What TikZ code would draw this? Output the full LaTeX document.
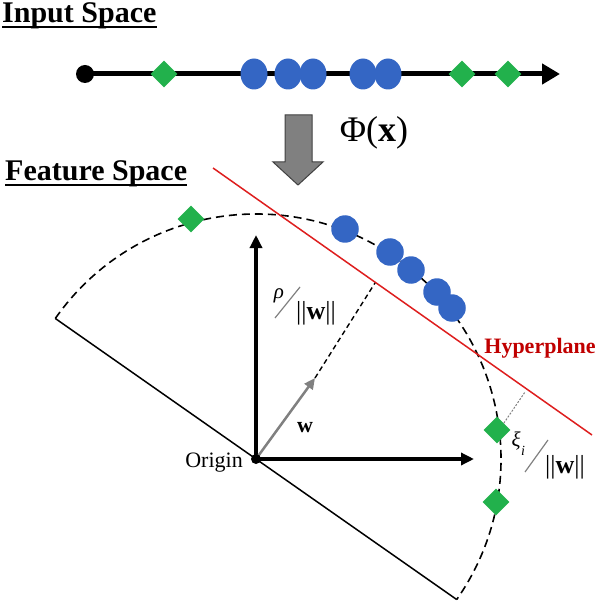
\documentclass[tikz,border=0pt]{standalone}
\usepackage{fontspec}
\setmainfont{Liberation Serif}
\usetikzlibrary{shapes.geometric,arrows.meta,calc}
\definecolor{gdiam}{RGB}{34,177,76}
\definecolor{bdot}{RGB}{52,102,196}
\definecolor{hred}{RGB}{222,30,30}
\definecolor{hlab}{RGB}{192,0,0}
\definecolor{garrow}{RGB}{128,128,128}
\definecolor{gborder}{RGB}{64,64,64}
\begin{document}
\begin{tikzpicture}[x=1pt,y=1pt,
  gdia/.style={diamond,fill=gdiam,minimum width=27pt,minimum height=27pt,inner sep=0pt,aspect=1},
  bdisk/.style={ellipse,fill=bdot,minimum width=27pt,minimum height=31pt,inner sep=0pt},
  bdisk2/.style={circle,fill=bdot,minimum size=27.5pt,inner sep=0pt},
  titletext/.style={font=\fontsize{30}{34}\selectfont\bfseries,inner sep=0pt,anchor=base west},
  lbl/.style={font=\fontsize{22}{26}\selectfont,inner sep=0pt},
  axisline/.style={line width=3.5pt,-{Triangle[length=13pt,width=12pt]}},
  arcline/.style={line width=1.6pt,dash pattern=on 8pt off 5pt},
  fracslash/.style={line width=1.2pt,gray},
]
\path[use as bounding box] (0,0) rectangle (600,-601);

% ---------- Input space ----------
\node[titletext] (inp) at (2,-23) {Input Space};
\draw[line width=1.5pt] ($(inp.base west)+(0,-4)$) -- ($(inp.base east)+(0,-4)$);

\node[circle,fill=black,minimum size=18pt,inner sep=0pt] (s) at (85,-74) {};
\coordinate (e) at (560,-74);
\draw[line width=5pt,-{Triangle[length=18pt,width=20pt]}] (s.center) -- (e);

\node[gdia] (d1) at (164,-74) {};
\node[gdia] (d2) at (462,-74) {};
\node[gdia] (d3) at (508,-74) {};
\node[bdisk] (b1) at (254,-74) {};
\node[bdisk] (b2) at (288,-74) {};
\node[bdisk] (b3) at (313,-74) {};
\node[bdisk] (b4) at (363,-74) {};
\node[bdisk] (b5) at (388,-74) {};

% ---------- mapping arrow ----------
\filldraw[fill=garrow,draw=gborder,line width=1pt]
  (285,-115) -- (312,-115) -- (312,-162) -- (323,-162) -- (298,-185)
  -- (273,-162) -- (285,-162) -- cycle;
\node[font=\fontsize{36}{40}\selectfont,inner sep=0pt] (phi) at (374,-133) {Φ(\textbf{x})};

% ---------- Feature space ----------
\node[titletext] (feat) at (5,-181) {Feature Space};
\draw[line width=1.5pt] ($(feat.base west)+(0,-4)$) -- ($(feat.base east)+(0,-4)$);

\coordinate (O) at (256,-459);

% sector
\draw[arcline] ($(O)+(145:245)$) arc[start angle=145,end angle=-35,radius=245];
\draw[line width=1.5pt] ($(O)+(145:245)$) -- ($(O)+(-35:245)$);

% hyperplane
\coordinate (h1) at (213,-168);
\coordinate (h2) at (592,-435);
\draw[hred,line width=1.5pt] (h1) -- (h2);
\node[font=\fontsize{22}{26}\selectfont\bfseries,text=hlab,inner sep=0pt] (hyp) at (540,-348) {Hyperplane};

% axes
\draw[axisline] (O) -- (256,-235);
\draw[axisline] (O) -- (474,-459);

% w vector and distance
\coordinate (wt) at (315,-378);
\coordinate (foot) at (375,-283);
\draw[garrow,line width=2.5pt,-{Triangle[length=11pt,width=10pt]}] (O) -- (wt);
\draw[line width=1.4pt,dash pattern=on 5pt off 3.5pt] (wt) -- (foot);
\node[circle,fill=black,minimum size=10pt,inner sep=0pt] (Od) at (O) {};
\node[lbl,anchor=east] (orig) at (243,-463) {Origin};
\node[font=\fontsize{22}{26}\selectfont\bfseries,inner sep=0pt] (wl) at (305,-428) {w};

% rho / ||w||
\node[font=\fontsize{21}{24}\selectfont\itshape,inner sep=0pt] (rho) at (279,-296) {ρ};
\draw[fracslash] (275,-318) -- (300,-287);
\node[font=\fontsize{26}{30}\selectfont,inner sep=0pt] (nw1) at (316,-313) {||\textbf{w}||};

% feature space points
\node[gdia] (f1) at (191,-219) {};
\node[bdisk2] (c1) at (345,-229) {};
\node[bdisk2] (c2) at (390,-252) {};
\node[bdisk2] (c3) at (411,-270) {};
\node[bdisk2] (c4) at (437,-292) {};
\node[bdisk2] (c5) at (452,-308) {};
\node[gdia] (f2) at (497,-430) {};
\node[gdia] (f3) at (496,-502) {};

% slack distance
\coordinate (sf) at (525,-392);
\draw[line width=1pt,gray,dash pattern=on 2pt off 1.5pt] (f2.north east) -- (sf);
\node[font=\fontsize{21}{24}\selectfont\itshape,inner sep=0pt] (xi) at (516,-441) {ξ};
\node[font=\fontsize{14}{16}\selectfont\itshape,inner sep=0pt] (xii) at (523,-451) {i};
\draw[fracslash] (525,-472) -- (548,-440);
\node[font=\fontsize{26}{30}\selectfont,inner sep=0pt] (nw2) at (565,-467) {||\textbf{w}||};
\end{tikzpicture}
\end{document}
